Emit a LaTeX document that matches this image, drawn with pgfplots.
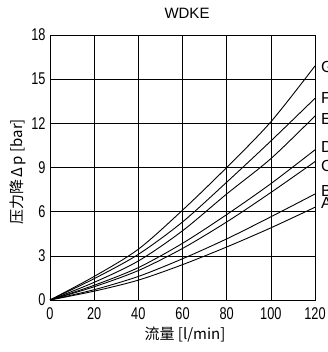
\documentclass[border=0pt]{standalone}
\usepackage{pgfplots}
\pgfplotsset{compat=1.18}
\usepackage{pgfplotstable}
\usepackage{fontspec}
\setmainfont{Liberation Sans}
\newfontfamily\cjk{Noto Sans CJK SC}
\newfontfamily\numfont[FakeStretch=0.75]{Liberation Sans}

\pgfplotstableread{
q G F E D C B A
0 0 0 0 0 0 0 0
20 1.6 1.45 1.2 1.0 0.9 0.7 0.6
40 3.45 3.1 2.65 2.2 2.0 1.6 1.35
60 6.1 5.3 4.7 3.85 3.5 2.8 2.4
80 9.0 8.0 7.2 5.8 5.3 4.15 3.6
100 12.1 10.8 9.6 7.9 7.3 5.65 4.9
120 15.9 13.7 12.5 10.2 9.4 7.2 6.3
}\curves

\begin{document}
\begin{tikzpicture}[x=1pt,y=1pt]
\path[use as bounding box] (0,0) rectangle (328,352);
\begin{axis}[
  at={(50pt,52pt)}, anchor=south west,
  scale only axis, width=265pt, height=265pt,
  xmin=0, xmax=120, ymin=0, ymax=18,
  xtick={0,20,...,120}, ytick={0,3,...,18},
  grid=major, grid style={black, line width=0.6pt},
  axis line style={black, line width=0.8pt},
  tick style={draw=none},
  tick label style={font=\fontsize{17}{17}\selectfont\numfont},
  /pgf/number format/assume math mode=true,
  xticklabel style={yshift=-4pt},
  yticklabel style={xshift=-1pt},
  clip=false,
]
\foreach \c in {G,F,E,D,C,B,A}{
  \addplot[black, line width=0.9pt, smooth, tension=0.5] table[x=q, y=\c] {\curves};
}
\begin{scope}[every node/.style={anchor=west, inner sep=0pt, font=\fontsize{16}{16}\selectfont}]
\node at (axis cs:120,15.8) [xshift=6pt] {G};
\node at (axis cs:120,13.7) [xshift=6pt] {F};
\node at (axis cs:120,12.3) [xshift=6pt] {E};
\node at (axis cs:120,10.4) [xshift=6pt] {D};
\node at (axis cs:120,9.1) [xshift=6pt] {C};
\node at (axis cs:120,7.4) [xshift=6pt] {B};
\node at (axis cs:120,6.6) [xshift=6pt] {A};
\end{scope}
\end{axis}
\node[font=\fontsize{15}{15}\selectfont] at (187,339) {WDKE};
\node[font=\fontsize{15}{15}\selectfont\cjk] at (185,17) {流量 [l/min]};
\node[font=\fontsize{15}{15}\selectfont\cjk, rotate=90] at (18,180) {压力降\,Δ\,p [bar]};
\end{tikzpicture}
\end{document}
